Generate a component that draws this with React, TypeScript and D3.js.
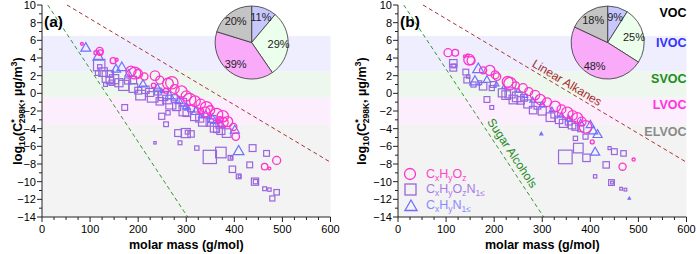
import React from 'react';
import * as d3 from 'd3';

// [molar mass (g/mol), log10 C*298K, relative abundance]
type Pt = [number, number, number];

const xTicks = [0, 100, 200, 300, 400, 500, 600];
const yTicks = [10, 8, 6, 4, 2, 0, -2, -4, -6, -8, -10, -12, -14];

const bandNames = ['VOC', 'IVOC', 'SVOC', 'LVOC', 'ELVOC'];
const bandTops = [10, 6.5, 2.5, -0.5, -3.5];
const bandBottoms = [6.5, 2.5, -0.5, -3.5, -14];

// volatility class shares (IVOC, SVOC, LVOC, ELVOC)
const pieSharesA = [11, 29, 39, 20];
const pieSharesB = [9, 25, 48, 18];

// reference homologous series, as [molar mass, log10 C*]
const alkaneLine: [number, number][] = [[52, 10], [600, -7.8]];
const sugarLine: [number, number][] = [[12, 10], [303, -14]];

const oxyA: Pt[] = [
  [83, 5.6, 3], [112, 4.6, 6], [120, 4.8, 20], [121, 4.6, 12], [148, 3.7, 14], [155, 3.8, 4],
  [185, 2.5, 40], [193, 2.3, 55], [200, 2.2, 30], [213, 1.9, 20], [235, 2.0, 35], [245, 1.5, 25],
  [262, 1.1, 45], [270, 1.2, 60], [276, 0.5, 30], [290, 0.2, 50], [300, -0.3, 40], [307, -0.7, 60],
  [318, -0.9, 45], [330, -1.2, 35], [342, -1.6, 55], [350, -1.9, 30], [363, -2.4, 60], [376, -2.6, 50],
  [386, -3.2, 40], [376, -3.3, 45], [398, -3.8, 20], [403, -4.9, 22], [463, -8.3, 16], [488, -7.6, 25],
  [473, -8.5, 3], [232, 0.9, 8], [258, 0.3, 10], [330, -2.0, 12], [370, -3.0, 15], [339, -2.1, 40],
];

const nitroOxyA: Pt[] = [
  [119, 3.2, 70], [120, 3.0, 10], [116, 2.3, 12], [127, 2.4, 40], [137, 1.9, 70], [140, 2.2, 25],
  [141, 1.5, 30], [145, 1.2, 15], [132, 1.0, 8], [150, 1.6, 45], [160, 1.2, 35], [170, 0.9, 55],
  [178, 1.4, 20], [189, 1.5, 30], [190, 0.6, 40], [200, 0.3, 25], [205, -0.2, 50], [215, 0.4, 30],
  [224, 0.1, 35], [230, -0.4, 60], [241, 0.2, 25], [245, -0.9, 30], [252, -0.3, 45], [260, -0.7, 40],
  [268, -1.2, 55], [275, -0.5, 20], [280, -1.5, 35], [293, -1.0, 30], [295, -2.0, 50], [301, -2.2, 30],
  [310, -1.7, 25], [318, -2.6, 40], [328, -2.8, 35], [335, -3.2, 45], [349, -3.3, 30], [355, -2.9, 25],
  [359, -3.9, 40], [368, -3.6, 20], [372, -4.2, 35], [384, -4.5, 40], [363, -4.1, 20], [172, -1.6, 18],
  [249, -2.6, 20], [262, -2.2, 10], [283, -4.5, 25], [299, -4.5, 45], [302, -4.4, 8], [310, -4.6, 22],
  [287, -5.6, 8], [322, -6.2, 10], [349, -7.2, 95], [372, -6.7, 60], [392, -7.3, 12], [394, -7.3, 3],
  [438, -6.2, 25], [467, -6.8, 18], [396, -8.6, 22], [409, -9.4, 12], [411, -9.4, 4], [432, -8.1, 18],
  [443, -10.0, 28], [444, -10.0, 10], [463, -10.8, 8], [473, -10.9, 6], [488, -11.2, 16], [479, -11.9, 14],
  [235, -5.6, 3], [258, -3.5, 12],
];

const nitroA: Pt[] = [
  [91, 5.1, 35], [117, 4.1, 40], [154, 2.7, 30], [166, 2.9, 35], [180, 2.2, 20], [210, 1.0, 25],
  [240, 0.6, 20], [265, -0.3, 30], [285, -0.9, 25], [300, -1.5, 20], [320, -2.1, 30], [340, -2.5, 25],
  [355, -3.0, 30], [372, -3.5, 20], [401, -4.2, 30], [409, -6.6, 40], [330, -2.6, 6], [300, -1.8, 4],
  [250, 0.2, 5],
];

const oxyB: Pt[] = [
  [104, 4.6, 25], [119, 4.6, 18], [139, 4.2, 3], [148, 3.8, 45], [152, 3.7, 25], [177, 2.6, 20],
  [191, 2.6, 40], [202, 2.1, 25], [206, 1.9, 22], [228, 1.3, 45], [233, 1.1, 60], [245, 0.9, 20],
  [260, 0.6, 30], [272, 0.2, 25], [285, -0.2, 35], [296, -0.7, 40], [310, -1.0, 30], [327, -1.5, 45],
  [340, -1.8, 30], [352, -2.2, 50], [363, -2.5, 35], [373, -2.8, 45], [382, -3.2, 30], [390, -3.8, 60],
  [404, -5.5, 6], [467, -8.3, 20], [490, -7.5, 4], [145, 4.3, 3],
];

const nitroOxyB: Pt[] = [
  [115, 3.4, 30], [115, 2.9, 25], [116, 3.1, 8], [141, 2.4, 18], [143, 1.5, 18], [146, 1.9, 6],
  [157, 1.0, 14], [177, 0.8, 30], [170, 1.2, 8], [198, 1.0, 18], [195, 0.6, 14], [185, -0.7, 18],
  [195, -1.6, 8], [217, 0.05, 35], [225, -0.2, 40], [233, 0.05, 55], [240, -0.7, 40], [248, -0.4, 50],
  [255, -0.8, 30], [262, -0.5, 25], [270, -1.2, 35], [281, -1.9, 30], [290, -1.4, 25], [300, -2.0, 35],
  [317, -2.7, 40], [325, -2.4, 25], [335, -3.0, 30], [344, -3.4, 35], [355, -3.2, 25], [362, -3.6, 30],
  [369, -3.8, 25], [380, -4.0, 20], [369, -5.1, 10], [390, -4.9, 14], [348, -7.2, 100], [375, -6.2, 50],
  [392, -7.3, 30], [433, -8.1, 22], [450, -6.6, 18], [469, -6.8, 16], [440, -6.2, 5], [444, -10.1, 18],
  [445, -10.1, 4], [410, -9.4, 6], [464, -10.8, 4], [473, -10.9, 4],
];

const nitroB: Pt[] = [
  [167, 2.7, 45], [160, 1.3, 40], [185, 1.5, 20], [205, 1.0, 8], [220, 0.7, 6], [250, 0.3, 10],
  [265, -0.3, 8], [280, -0.8, 12], [300, -1.3, 15], [320, -1.9, 10], [340, -2.5, 12], [355, -2.9, 15],
  [380, -3.4, 18], [400, -3.6, 25], [406, -4.3, 30], [415, -4.7, 30], [410, -6.7, 30], [298, -4.6, 3],
  [481, -11.9, 2],
];

const FONT = 'Liberation Sans, Arial, sans-serif';
const C_OXY = '#ff33cc';
const C_NOXY = '#9966dd';
const C_NIT = '#6f6fff';
const bandFill = ['#ffffff', '#eeeeff', '#eef7ee', '#fdeefd', '#f3f3f3'];
const bandText = ['#000000', '#3333ff', '#228b22', '#ff33dd', '#8a8a8a'];
const pieFill = ['#c8c8ff', '#ecffec', '#f9aaf9', '#c4c4c4'];

const fmt = (v: number) => (v < 0 ? `\u2212${Math.abs(v)}` : `${v}`);

const triPath = (s: number) =>
  `M0,${-s}L${s * 0.866},${s * 0.5}L${-s * 0.866},${s * 0.5}Z`;

const YLabel = ({ x, y }: { x: number; y: number }) => (
  <text transform={`translate(${x},${y}) rotate(-90)`} textAnchor="middle" fontWeight="bold" fontSize={12.5}>
    log<tspan fontSize={9} dy={3}>10</tspan>
    <tspan dy={-3}>(C</tspan>
    <tspan fontSize={9} dy={-5}>*</tspan>
    <tspan fontSize={8.5} dx={-4} dy={8}>298K</tspan>
    <tspan dy={-3}>, µg/m</tspan>
    <tspan fontSize={9} dy={-5}>3</tspan>
    <tspan dy={5}>)</tspan>
  </text>
);

interface PanelProps {
  x0: number;
  tag: string;
  oxy: Pt[];
  nitroOxy: Pt[];
  nitro: Pt[];
  shares: number[];
  labelX: number;
  annotate?: boolean;
}

function Panel({ x0, tag, oxy, nitroOxy, nitro, shares, labelX, annotate }: PanelProps) {
  const x = d3.scaleLinear().domain([0, 600]).range([x0, x0 + 288.5]);
  const y = d3.scaleLinear().domain([-14, 10]).range([217, 5]);
  const r = d3.scaleSqrt().domain([0, 100]).range([0, 8]);

  const line = d3.line<[number, number]>().x(d => x(d[0])).y(d => y(d[1]));

  const pie = d3.pie<number>().sort(null).value(d => d);
  const arc = d3.arc<d3.PieArcDatum<number>>().innerRadius(0).outerRadius(36.5);
  const pieCx = x(436);
  const pieCy = y(5.75);

  const minorX = d3.range(0, 601, 25).filter(v => v % 100 !== 0);
  const minorY = d3.range(-13, 10, 2);

  // position and angle of a label along a reference line
  const along = (pts: [number, number][], mass: number) => {
    const [a, b] = pts;
    const t = (mass - a[0]) / (b[0] - a[0]);
    const v = a[1] + t * (b[1] - a[1]);
    const ang = (Math.atan2(y(b[1]) - y(a[1]), x(b[0]) - x(a[0])) * 180) / Math.PI;
    return { px: x(mass), py: y(v), ang };
  };

  const alk = along(alkaneLine, 344);
  const sug = along(sugarLine, 222);

  return (
    <g>
      {bandNames.map((n, i) => (
        <rect key={n} x={x(0)} width={x(600) - x(0)} y={y(bandTops[i])}
          height={y(bandBottoms[i]) - y(bandTops[i])} fill={bandFill[i]} />
      ))}

      <path d={line(alkaneLine) ?? ''} stroke="#a83232" strokeWidth={1} strokeDasharray="4,3" fill="none" />
      <path d={line(sugarLine) ?? ''} stroke="#2f9a2f" strokeWidth={1} strokeDasharray="4,3" fill="none" />

      {nitroOxy.map((d, i) => {
        const s = r(d[2]) * 0.85;
        return <rect key={`s${i}`} x={x(d[0]) - s} y={y(d[1]) - s} width={2 * s} height={2 * s}
          fill="none" stroke={C_NOXY} strokeWidth={1.2} />;
      })}
      {nitro.map((d, i) => (
        <path key={`t${i}`} d={triPath(r(d[2]) * 1.2)} transform={`translate(${x(d[0])},${y(d[1])})`}
          fill="none" stroke={C_NIT} strokeWidth={1.2} />
      ))}
      {oxy.map((d, i) => (
        <circle key={`c${i}`} cx={x(d[0])} cy={y(d[1])} r={r(d[2])} fill="none" stroke={C_OXY} strokeWidth={1.3} />
      ))}

      {/* axes */}
      <line x1={x0} x2={x0} y1={y(10)} y2={y(-14)} stroke="#222" />
      <line x1={x0} x2={x(600)} y1={y(-14)} y2={y(-14)} stroke="#222" />
      {yTicks.map(t => (
        <g key={`yt${t}`}>
          <line x1={x0 - 5} x2={x0} y1={y(t)} y2={y(t)} stroke="#222" />
          <text x={x0 - 6} y={y(t) + 4} textAnchor="end" fontSize={11}>{fmt(t)}</text>
        </g>
      ))}
      {minorY.map(t => (
        <line key={`ym${t}`} x1={x0 - 3} x2={x0} y1={y(t)} y2={y(t)} stroke="#222" />
      ))}
      {xTicks.map(t => (
        <g key={`xt${t}`}>
          <line x1={x(t)} x2={x(t)} y1={y(-14)} y2={y(-14) + 5} stroke="#222" />
          <text x={x(t)} y={233} textAnchor="middle" fontSize={11}>{t}</text>
        </g>
      ))}
      {minorX.map(t => (
        <line key={`xm${t}`} x1={x(t)} x2={x(t)} y1={y(-14)} y2={y(-14) + 3} stroke="#222" />
      ))}
      <text x={(x(0) + x(600)) / 2} y={249} textAnchor="middle" fontSize={12.5} fontWeight="bold">
        molar mass (g/mol)
      </text>
      <YLabel x={labelX} y={111} />
      <text x={x0 + 2} y={27} fontSize={15.5} fontWeight="bold">{tag}</text>

      {/* volatility class shares */}
      <g transform={`translate(${pieCx},${pieCy})`}>
        {pie(shares).map((a, i) => (
          <path key={`p${i}`} d={arc(a) ?? ''} fill={pieFill[i]} stroke="#333" strokeWidth={0.8} />
        ))}
        {pie(shares).map((a, i) => {
          const m = (a.startAngle + a.endAngle) / 2;
          return (
            <text key={`pl${i}`} x={Math.sin(m) * 27} y={-Math.cos(m) * 27 + 4} textAnchor="middle"
              fontSize={11} fill="#222">{`${shares[i]}%`}</text>
          );
        })}
      </g>

      {annotate && (
        <g>
          {bandNames.map((n, i) => (
            <text key={`bn${n}`} x={x(600)} y={y(bandTops[i]) + 11.5} textAnchor="end" fontSize={12.5}
              fontWeight="bold" fill={bandText[i]}>{n}</text>
          ))}
          <text transform={`translate(${alk.px},${alk.py}) rotate(${alk.ang})`} dy={-3} textAnchor="middle"
            fontSize={12} fill="#a52a2a">Linear Alkanes</text>
          <text transform={`translate(${sug.px},${sug.py}) rotate(${sug.ang})`} dy={-5} textAnchor="middle"
            fontSize={12} fill="#228b22">Sugar Alcohols</text>

          {/* legend */}
          <circle cx={410} cy={174} r={5.5} fill="none" stroke={C_OXY} strokeWidth={1.3} />
          <rect x={405} y={184} width={11} height={11} fill="none" stroke={C_NOXY} strokeWidth={1.3} />
          <path d={triPath(7)} transform="translate(411,207)" fill="none" stroke={C_NIT} strokeWidth={1.3} />
          <text x={426} y={178} fontSize={12.5} fill="#ff44cc">
            C<tspan fontSize={8.5} dy={3}>x</tspan><tspan dy={-3}>H</tspan><tspan fontSize={8.5} dy={3}>y</tspan>
            <tspan dy={-3}>O</tspan><tspan fontSize={8.5} dy={3}>z</tspan>
          </text>
          <text x={426} y={193} fontSize={12.5} fill="#a97ae8">
            C<tspan fontSize={8.5} dy={3}>x</tspan><tspan dy={-3}>H</tspan><tspan fontSize={8.5} dy={3}>y</tspan>
            <tspan dy={-3}>O</tspan><tspan fontSize={8.5} dy={3}>z</tspan><tspan dy={-3}>N</tspan>
            <tspan fontSize={8.5} dy={3}>1≤</tspan>
          </text>
          <text x={426} y={209} fontSize={12.5} fill="#8a8aff">
            C<tspan fontSize={8.5} dy={3}>x</tspan><tspan dy={-3}>H</tspan><tspan fontSize={8.5} dy={3}>y</tspan>
            <tspan dy={-3}>N</tspan><tspan fontSize={8.5} dy={3}>1≤</tspan>
          </text>
        </g>
      )}
    </g>
  );
}

export default function App() {
  return (
    <svg width={696} height={254} style={{ position: 'absolute', left: 0, top: 0, fontFamily: FONT }}>
      <rect width={696} height={254} fill="#fff" />
      <Panel x0={42} tag="(a)" oxy={oxyA} nitroOxy={nitroOxyA} nitro={nitroA} shares={pieSharesA} labelX={22} />
      <Panel x0={398} tag="(b)" oxy={oxyB} nitroOxy={nitroOxyB} nitro={nitroB} shares={pieSharesB} labelX={366} annotate />
    </svg>
  );
}
